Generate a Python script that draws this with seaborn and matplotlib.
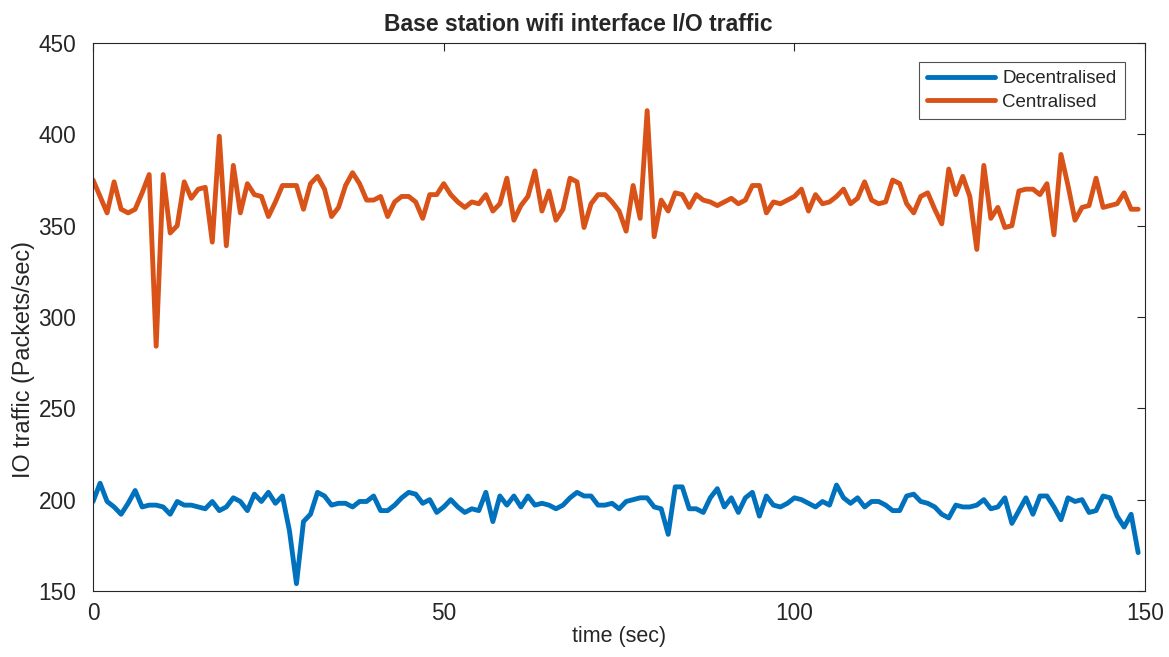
import pandas as pd
import seaborn as sns
import matplotlib.pyplot as plt

# values, one sample per second
time_sec = list(range(150))

decentralised = [199, 209, 199, 196, 192, 198, 205, 196, 197, 197,
                 196, 192, 199, 197, 197, 196, 195, 199, 194, 196,
                 201, 199, 194, 203, 199, 204, 198, 202, 183, 154,
                 188, 192, 204, 202, 197, 198, 198, 196, 199, 199,
                 202, 194, 194, 197, 201, 204, 203, 198, 200, 193,
                 196, 200, 196, 193, 195, 194, 204, 188, 202, 197,
                 202, 196, 202, 197, 198, 197, 195, 197, 201, 204,
                 202, 202, 197, 197, 198, 195, 199, 200, 201, 201,
                 196, 195, 181, 207, 207, 195, 195, 193, 201, 206,
                 196, 201, 193, 201, 204, 191, 202, 197, 196, 198,
                 201, 200, 198, 196, 199, 197, 208, 201, 198, 201,
                 196, 199, 199, 197, 194, 194, 202, 203, 199, 198,
                 196, 192, 190, 197, 196, 196, 197, 200, 195, 196,
                 201, 187, 194, 201, 192, 202, 202, 196, 189, 201,
                 199, 200, 193, 194, 202, 201, 191, 185, 192, 171]

centralised = [375, 366, 357, 374, 359, 357, 359, 368, 378, 284,
               378, 346, 350, 374, 365, 370, 371, 341, 399, 339,
               383, 357, 373, 367, 366, 355, 363, 372, 372, 372,
               359, 373, 377, 370, 355, 360, 372, 379, 373, 364,
               364, 366, 355, 363, 366, 366, 363, 354, 367, 367,
               373, 367, 363, 360, 363, 362, 367, 358, 362, 376,
               353, 361, 366, 380, 358, 369, 353, 359, 376, 374,
               349, 362, 367, 367, 363, 358, 347, 372, 354, 413,
               344, 364, 358, 368, 367, 360, 367, 364, 363, 361,
               363, 365, 362, 364, 372, 372, 357, 363, 362, 364,
               366, 370, 358, 367, 362, 363, 366, 370, 362, 365,
               374, 364, 362, 363, 375, 373, 362, 357, 366, 368,
               359, 351, 381, 367, 377, 366, 337, 383, 354, 360,
               349, 350, 369, 370, 370, 367, 373, 345, 389, 372,
               353, 360, 361, 376, 360, 361, 362, 368, 359, 359]

df = pd.DataFrame({
    "time": time_sec * 2,
    "traffic": decentralised + centralised,
    "mode": ["Decentralised"] * len(time_sec) + ["Centralised"] * len(time_sec),
})

sns.set_style("white")
plt.rcParams['font.family'] = ['Liberation Sans', 'DejaVu Sans']

fig = plt.figure(figsize=(11.69, 6.57), dpi=100)
ax = fig.add_axes([0.0796, 0.1005, 0.9, 0.834])

palette = {"Decentralised": "#0072BD", "Centralised": "#D95319"}
sns.lineplot(data=df, x="time", y="traffic", hue="mode", palette=palette,
             linewidth=3.5, ax=ax)

ax.set_xlim(0, 150)
ax.set_ylim(150, 450)
ax.set_xticks([0, 50, 100, 150])
ax.set_yticks(range(150, 451, 50))
ax.tick_params(direction="in", top=True, right=True, length=6,
               width=0.8, color="#262626", labelsize=16.3, labelcolor="#262626")
ax.tick_params(axis="y", pad=12)
ax.tick_params(axis="x", pad=8)
for s in ax.spines.values():
    s.set_color("#262626")
    s.set_linewidth(0.8)

ax.set_xlabel("time (sec)", fontsize=15.5, color="#262626")
ax.set_ylabel("IO traffic (Packets/sec)", fontsize=16.8, color="#262626")
ax.xaxis.set_label_coords(0.5, -0.064)
ax.yaxis.set_label_coords(-0.055, 0.423)
ax.set_title("Base station wifi interface I/O traffic", fontsize=16.5,
             fontweight="bold", pad=9, x=0.461)

leg = ax.legend(loc="upper right", bbox_to_anchor=(0.981, 0.966),
                fontsize=13.5, frameon=True, fancybox=False, handlelength=3.6,
                borderpad=0.45, labelspacing=0.35, handletextpad=0.4,
                borderaxespad=0)
leg.get_frame().set_edgecolor("#262626")
leg.get_frame().set_linewidth(0.8)

plt.savefig("out.png", dpi=100)
